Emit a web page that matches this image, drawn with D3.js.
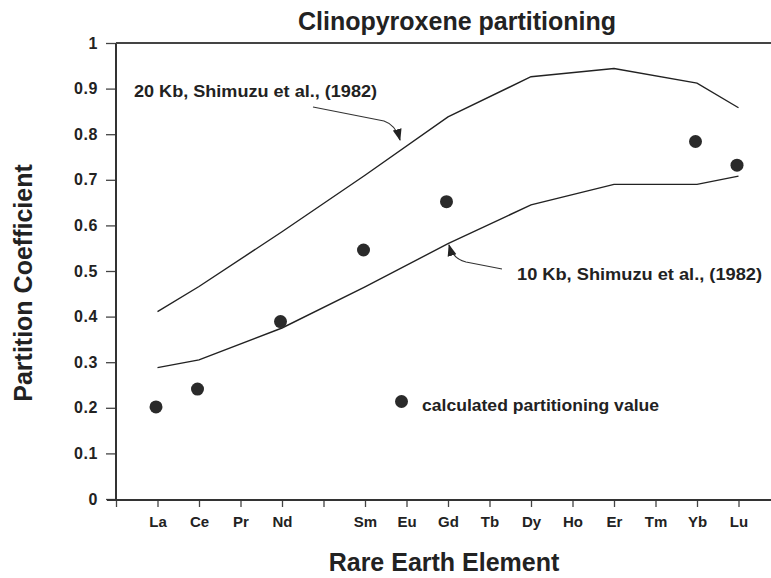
<!DOCTYPE html>
<html>
<head>
<meta charset="utf-8">
<script src="https://cdn.jsdelivr.net/npm/d3@7"></script>
<style>
  body { margin: 0; background: #fff; }
  svg text { font-family: "Liberation Sans", Arial, sans-serif; font-weight: bold; fill: #222; }
</style>
</head>
<body>
<div class="graph"></div>
<script>
// rare earth elements along the x axis (Pm is left unlabelled)
var ree = ["La", "Ce", "Pr", "Nd", "Pm", "Sm", "Eu", "Gd", "Tb", "Dy", "Ho", "Er", "Tm", "Yb", "Lu"];
var yTicks = [0, 0.1, 0.2, 0.3, 0.4, 0.5, 0.6, 0.7, 0.8, 0.9, 1];

// Shimizu et al. (1982) curves
var kb20Elements = ["La", "Ce", "Nd", "Sm", "Gd", "Dy", "Er", "Yb", "Lu"];
var kb20Values   = [0.411, 0.466, 0.586, 0.71, 0.838, 0.926, 0.944, 0.912, 0.858];
var kb10Elements = ["La", "Ce", "Nd", "Sm", "Gd", "Dy", "Er", "Yb", "Lu"];
var kb10Values   = [0.288, 0.305, 0.375, 0.465, 0.56, 0.645, 0.69, 0.69, 0.708];

// calculated partitioning values
var calcElements = ["La", "Ce", "Nd", "Sm", "Gd", "Yb", "Lu"];
var calcValues   = [0.202, 0.241, 0.389, 0.546, 0.652, 0.784, 0.732];

function displayChart() {
    const W = 771, H = 578;
    const left = 116, top = 43, bottom = 499;

    const svg = d3.select(".graph").append("svg")
        .attr("width", W)
        .attr("height", H);

    const x = d3.scaleLinear().domain([0, ree.length]).range([left, left + 41.5 * ree.length]);
    const y = d3.scaleLinear().domain([0, 1]).range([bottom, top]);
    const pos = el => ree.indexOf(el) + 1;

    const defs = svg.append("defs");
    defs.append("marker")
        .attr("id", "head")
        .attr("viewBox", "0 -5 12 10")
        .attr("refX", 11).attr("refY", 0)
        .attr("markerWidth", 12).attr("markerHeight", 10)
        .attr("markerUnits", "userSpaceOnUse")
        .attr("orient", "auto")
        .append("path")
        .attr("d", "M0,-4.5L12,0L0,4.5Z")
        .style("fill", "#222");

    // y axis
    const yAxis = svg.append("g")
        .attr("transform", "translate(" + left + ",0)")
        .call(d3.axisLeft(y).tickValues(yTicks).tickSize(10).tickSizeOuter(0).tickPadding(8)
            .tickFormat(d => d3.format("")(+d.toFixed(1))));
    yAxis.select(".domain").remove();
    yAxis.selectAll(".tick line").style("stroke", "#444").style("stroke-width", 1.3);
    yAxis.selectAll(".tick text").style("font-size", "16px").style("letter-spacing", "0.6px");

    // x axis
    const xAxis = svg.append("g")
        .attr("transform", "translate(0," + (bottom + 1) + ")")
        .call(d3.axisBottom(x).tickValues(d3.range(0, ree.length + 1)).tickSize(7).tickSizeOuter(0).tickPadding(9)
            .tickFormat(i => (i === 0 || ree[i - 1] === "Pm") ? "" : ree[i - 1]));
    xAxis.select(".domain").remove();
    xAxis.selectAll(".tick line").style("stroke", "#444").style("stroke-width", 1.3);
    xAxis.selectAll(".tick text").style("font-size", "15px");

    // frame lines
    svg.append("line").attr("x1", 107).attr("x2", W).attr("y1", bottom + 1).attr("y2", bottom + 1)
        .style("stroke", "#333").style("stroke-width", 2.2);
    svg.append("line").attr("x1", left).attr("x2", left).attr("y1", top).attr("y2", bottom + 1)
        .style("stroke", "#333").style("stroke-width", 2);
    svg.append("line").attr("x1", left).attr("x2", W).attr("y1", top).attr("y2", top)
        .style("stroke", "#444").style("stroke-width", 2);

    // curves
    const line = d3.line().x(d => x(pos(d[0]))).y(d => y(d[1]));
    svg.append("path")
        .attr("d", line(d3.zip(kb20Elements, kb20Values)))
        .style("fill", "none").style("stroke", "#222").style("stroke-width", 1.4);
    svg.append("path")
        .attr("d", line(d3.zip(kb10Elements, kb10Values)))
        .style("fill", "none").style("stroke", "#222").style("stroke-width", 1.4);

    // points
    svg.selectAll(".dot")
        .data(d3.zip(calcElements, calcValues))
        .enter().append("circle")
        .attr("class", "dot")
        .attr("cx", d => x(pos(d[0])) - 1.5)
        .attr("cy", d => y(d[1]))
        .attr("r", 6.5)
        .style("fill", "#2a2a2a");

    // annotations
    svg.append("text").attr("x", 134).attr("y", 97)
        .attr("textLength", 243).attr("lengthAdjust", "spacingAndGlyphs")
        .style("font-size", "16px").text("20 Kb, Shimuzu et al., (1982)");
    svg.append("path")
        .attr("d", "M313,107L384,121Q396,125 400,140")
        .attr("marker-end", "url(#head)")
        .style("fill", "none").style("stroke", "#333").style("stroke-width", 1.2);

    svg.append("text").attr("x", 517).attr("y", 280)
        .attr("textLength", 245).attr("lengthAdjust", "spacingAndGlyphs")
        .style("font-size", "16px").text("10 Kb, Shimuzu et al., (1982)");
    svg.append("path")
        .attr("d", "M502,269L466,262Q453,259 449,245")
        .attr("marker-end", "url(#head)")
        .style("fill", "none").style("stroke", "#333").style("stroke-width", 1.2);

    // legend
    svg.append("circle").attr("cx", 401.5).attr("cy", 401.5).attr("r", 6.5).style("fill", "#2a2a2a");
    svg.append("text").attr("x", 422).attr("y", 411)
        .attr("textLength", 237).attr("lengthAdjust", "spacingAndGlyphs")
        .style("font-size", "16px").text("calculated partitioning value");

    // titles
    svg.append("text").attr("x", 457).attr("y", 30)
        .attr("text-anchor", "middle").style("font-size", "25px")
        .text("Clinopyroxene partitioning");
    svg.append("text").attr("x", 444).attr("y", 571)
        .attr("text-anchor", "middle").style("font-size", "25px")
        .text("Rare Earth Element");
    svg.append("text")
        .attr("transform", "translate(32,283) rotate(-90)")
        .attr("text-anchor", "middle").style("font-size", "25px")
        .text("Partition Coefficient");
}

displayChart();
</script>
</body>
</html>
